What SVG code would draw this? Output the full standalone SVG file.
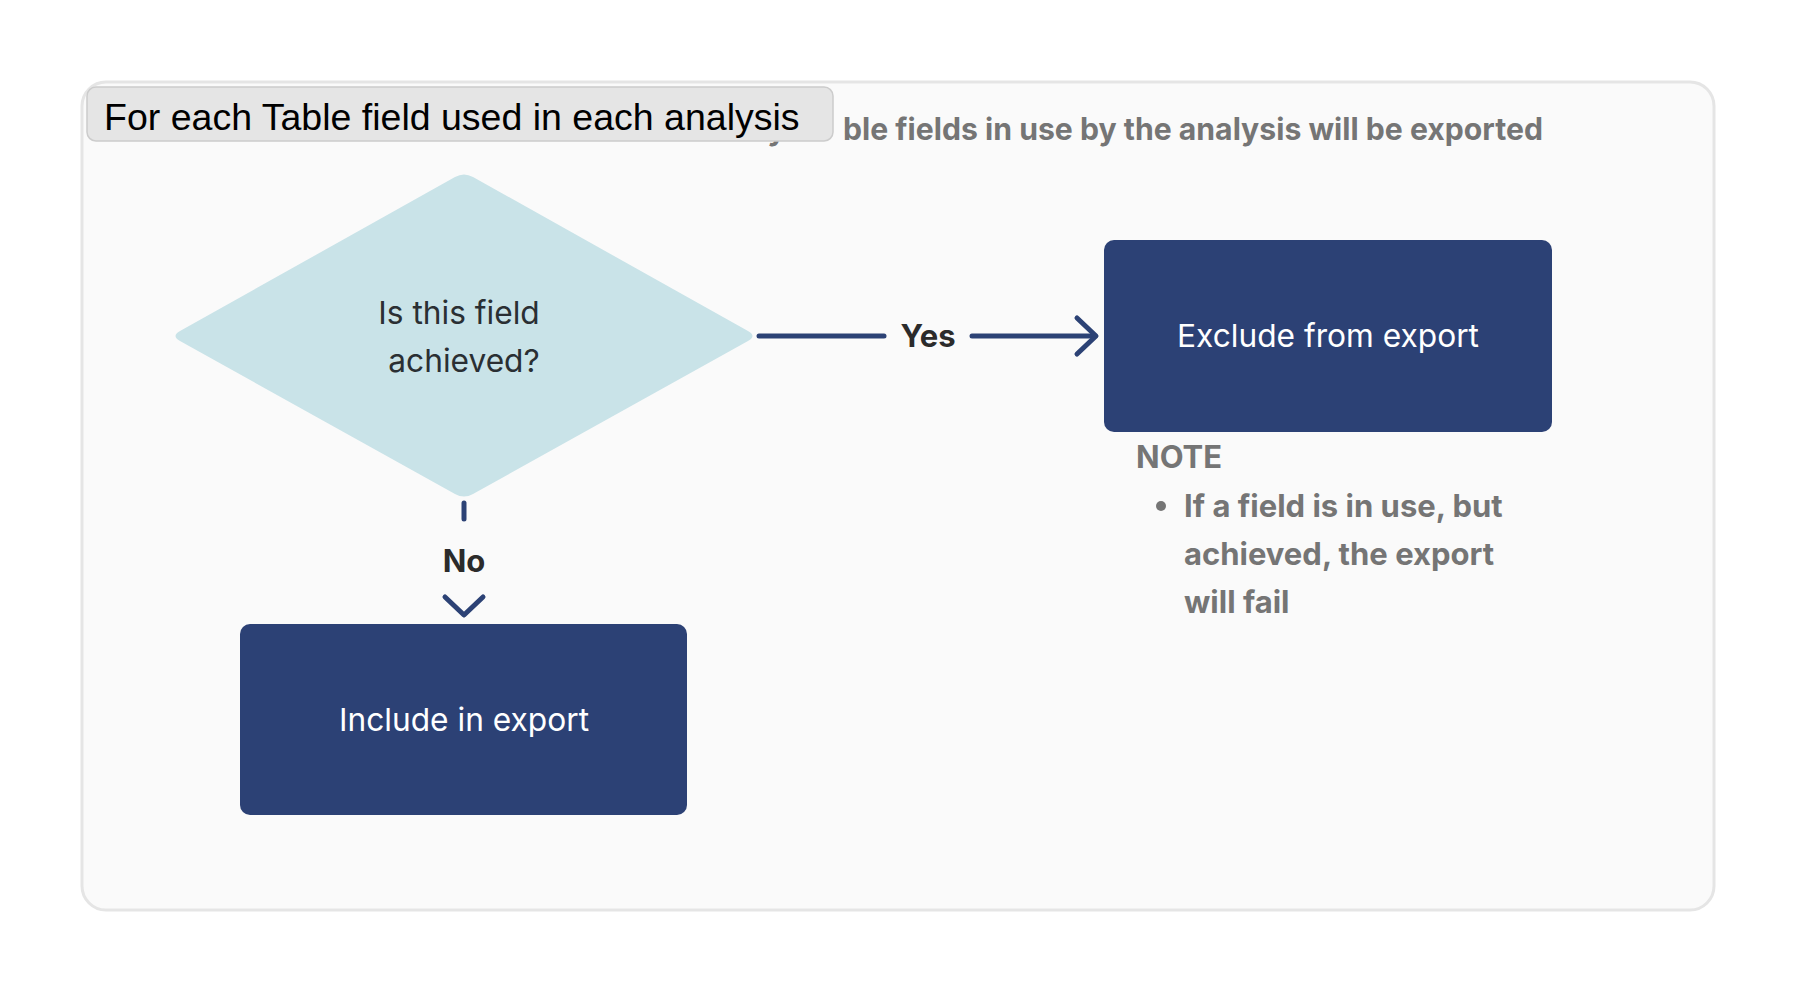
<svg xmlns="http://www.w3.org/2000/svg" width="1796" height="992" viewBox="0 0 1796 992">
<defs>
<style>
.lbl{font-family:Inter,"Noto Sans",sans-serif;font-weight:700;font-size:31px;fill:#2b2b2b;text-anchor:middle}
.box{fill:#2c4175}
.boxt{font-family:Inter,"Noto Sans",sans-serif;font-size:31.7px;fill:#ffffff;text-anchor:middle}
.note{font-family:Inter,"Noto Sans",sans-serif;font-weight:700;font-size:31px;fill:#757575}
.edge{stroke:#2c4275;stroke-width:5;stroke-linecap:round;stroke-linejoin:round;fill:none}
</style>
</defs>
<rect width="1796" height="992" fill="#ffffff"/>
<g id="container">
<rect x="82" y="82" width="1632" height="828" rx="24" fill="#fafafa" stroke="#e5e5e5" stroke-width="3"/>
<text y="140" font-family="Inter,'Noto Sans',sans-serif" font-weight="700" font-size="30.6" fill="#757575"><tspan x="829" text-anchor="end">Only Ta</tspan><tspan x="843" textLength="700" lengthAdjust="spacingAndGlyphs">ble fields in use by the analysis will be exported</tspan></text>
</g>
<g id="title">
<rect x="87" y="87" width="746" height="54" rx="9" fill="#e5e5e5" stroke="#cccccc" stroke-width="1.5"/>
<text x="104" y="130" font-family="'Liberation Sans',Arial,sans-serif" font-size="37.5" fill="#000000">For each Table field used in each analysis</text>
</g>
<g id="decision">
<path d="M455,177 Q464,172 473,177 L748,331 Q757,336 748,341 L473,494 Q464,499 455,494 L180,341 Q171,336 180,331 Z" fill="#c9e3e8"/>
<text x="459" y="324" font-family="Inter,'Noto Sans',sans-serif" font-size="31.7" fill="#2a2f33" text-anchor="middle">Is this field</text>
<text x="464" y="372" font-family="Inter,'Noto Sans',sans-serif" font-size="31.7" fill="#2a2f33" text-anchor="middle">achieved?</text>
</g>
<g id="exclude">
<rect class="box" x="1104" y="240" width="448" height="192" rx="10"/>
<text class="boxt" x="1328" y="347">Exclude from export</text>
</g>
<g id="include">
<rect class="box" x="240" y="624" width="447" height="191" rx="10"/>
<text class="boxt" x="464" y="731">Include in export</text>
</g>
<g id="note">
<text class="note" x="1136" y="468">NOTE</text>
<circle cx="1161" cy="506" r="5" fill="#757575"/>
<text class="note" x="1184" y="517">If a field is in use, but</text>
<text class="note" x="1184" y="565">achieved, the export</text>
<text class="note" x="1184" y="613">will fail</text>
</g>
<g id="connectors">
<path class="edge" d="M759,336 H884"/>
<text class="lbl" x="928" y="347">Yes</text>
<path class="edge" d="M972,336 H1095"/>
<path class="edge" d="M1077,318 L1096,336 L1077,354"/>
<path class="edge" d="M464,503 V519"/>
<text class="lbl" x="464" y="572">No</text>
<path class="edge" d="M445,597 L464,615 L483,597"/>
</g>
</svg>
